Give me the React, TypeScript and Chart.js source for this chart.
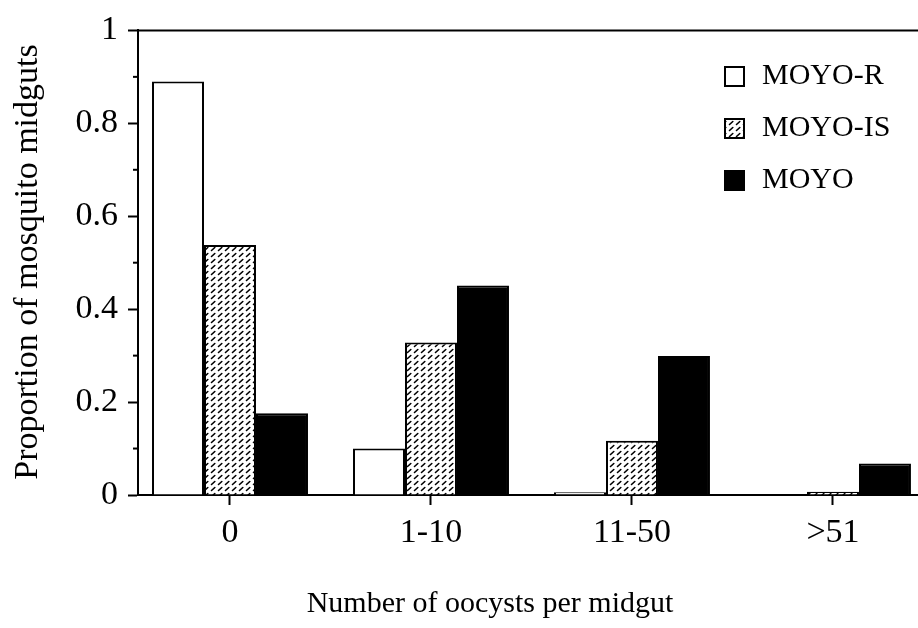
import React, { useEffect, useRef } from 'react';
import { Chart, registerables } from 'chart.js';

Chart.register(...registerables);

const categories = ['0', '1-10', '11-50', '>51'];
const categoryPositions = [0, 1, 2, 3];
const seriesNames = ['MOYO-R', 'MOYO-IS', 'MOYO'];
const moyoR = [0.89, 0.1, 0.006, 0];
const moyoIS = [0.538, 0.328, 0.117, 0.007];
const moyo = [0.176, 0.451, 0.299, 0.068];
const yTicks = [0, 0.2, 0.4, 0.6, 0.8, 1];
const yMinorTicks = [0.1, 0.3, 0.5, 0.7, 0.9];
const xTitle = 'Number of oocysts per midgut';
const yTitle = 'Proportion of mosquito midguts';

const FONT = '"Liberation Serif", "Times New Roman", serif';

function makeHatch(): CanvasPattern | string {
  const c = document.createElement('canvas');
  c.width = 7;
  c.height = 6;
  const g = c.getContext('2d');
  if (!g) return '#ffffff';
  g.fillStyle = '#ffffff';
  g.fillRect(0, 0, 7, 6);
  g.strokeStyle = '#000000';
  g.lineWidth = 1.6;
  g.lineCap = 'round';
  g.beginPath();
  g.moveTo(1.5, 4.5);
  g.lineTo(4.8, 1.5);
  g.stroke();
  const p = g.createPattern(c, 'repeat');
  return p || '#ffffff';
}

export default function App() {
  const ref = useRef<HTMLCanvasElement | null>(null);

  useEffect(() => {
    const canvas = ref.current;
    if (!canvas) return;
    const hatch = makeHatch();
    const toPts = (arr: number[]) => arr.map((v, i) => ({ x: categoryPositions[i], y: v }));
    const fills: any[] = ['#ffffff', hatch, '#000000'];
    const values = [moyoR, moyoIS, moyo];

    const decor = {
      id: 'decor',
      afterDraw(chart: any) {
        const { ctx, chartArea, scales } = chart;
        ctx.save();
        ctx.strokeStyle = '#000';
        ctx.lineWidth = 2;
        // top frame line
        ctx.beginPath();
        ctx.moveTo(chartArea.left, chartArea.top);
        ctx.lineTo(chartArea.right, chartArea.top);
        ctx.stroke();
        // minor ticks
        yMinorTicks.forEach((v) => {
          const y = scales.y.getPixelForValue(v);
          ctx.beginPath();
          ctx.moveTo(chartArea.left - 5, y);
          ctx.lineTo(chartArea.left, y);
          ctx.stroke();
        });
        // axis titles
        ctx.fillStyle = '#000';
        ctx.textAlign = 'center';
        ctx.textBaseline = 'middle';
        ctx.font = `30px ${FONT}`;
        ctx.fillText(xTitle, 490, 604);
        ctx.save();
        ctx.translate(28, 262);
        ctx.rotate(-Math.PI / 2);
        ctx.font = `34px ${FONT}`;
        ctx.fillText(yTitle, 0, 0);
        ctx.restore();
        // legend
        ctx.textAlign = 'left';
        ctx.font = `30px ${FONT}`;
        seriesNames.forEach((name, i) => {
          const cy = 76 + i * 52;
          ctx.fillStyle = fills[i];
          ctx.fillRect(725, cy - 9, 19, 19);
          ctx.lineWidth = 2;
          ctx.strokeRect(725, cy - 9, 19, 19);
          ctx.fillStyle = '#000';
          ctx.fillText(name, 762, cy);
        });
        ctx.restore();
      },
    };

    const chart = new Chart(canvas, {
      type: 'bar',
      data: {
        datasets: seriesNames.map((name, i) => ({
          label: name,
          data: toPts(values[i]),
          backgroundColor: fills[i],
          borderColor: '#000000',
          borderWidth: 2,
          categoryPercentage: 0.776,
          barPercentage: 1,
        })),
      },
      options: {
        animation: false,
        responsive: false,
        layout: { padding: { top: 23, left: 0, right: 0, bottom: 0 } },
        plugins: { legend: { display: false }, tooltip: { enabled: false } },
        scales: {
          x: {
            type: 'linear',
            offset: false,
            min: -0.4577,
            max: 3.423,
            afterBuildTicks: (s: any) => {
              s.ticks = categoryPositions.map((v) => ({ value: v }));
            },
            afterFit: (s: any) => {
              s.height = 133;
            },
            ticks: {
              color: '#000',
              font: { family: FONT, size: 34 },
              padding: 8,
              maxRotation: 0,
              autoSkip: false,
              callback: (v: any) => {
                const idx = categoryPositions.indexOf(Number(v));
                return idx >= 0 ? categories[idx] : '';
              },
            },
            grid: { offset: false, drawOnChartArea: false, tickLength: 10, tickColor: '#000', tickWidth: 2 },
            border: { color: '#000', width: 2 },
          },
          y: {
            min: 0,
            max: 1,
            afterBuildTicks: (s: any) => {
              s.ticks = yTicks.map((v) => ({ value: v }));
            },
            afterFit: (s: any) => {
              s.width = 138;
            },
            ticks: {
              color: '#000',
              font: { family: FONT, size: 34 },
              padding: 10,
              callback: (v: any) => String(v),
            },
            grid: { drawOnChartArea: false, tickLength: 10, tickColor: '#000', tickWidth: 2 },
            border: { color: '#000', width: 2 },
          },
        },
      },
      plugins: [decor],
    });

    return () => {
      chart.destroy();
    };
  }, []);

  return (
    <div style={{ position: 'fixed', left: 0, top: 0, width: 918, height: 628, background: '#fff' }}>
      <canvas ref={ref} width={918} height={628} style={{ display: 'block' }} />
    </div>
  );
}
